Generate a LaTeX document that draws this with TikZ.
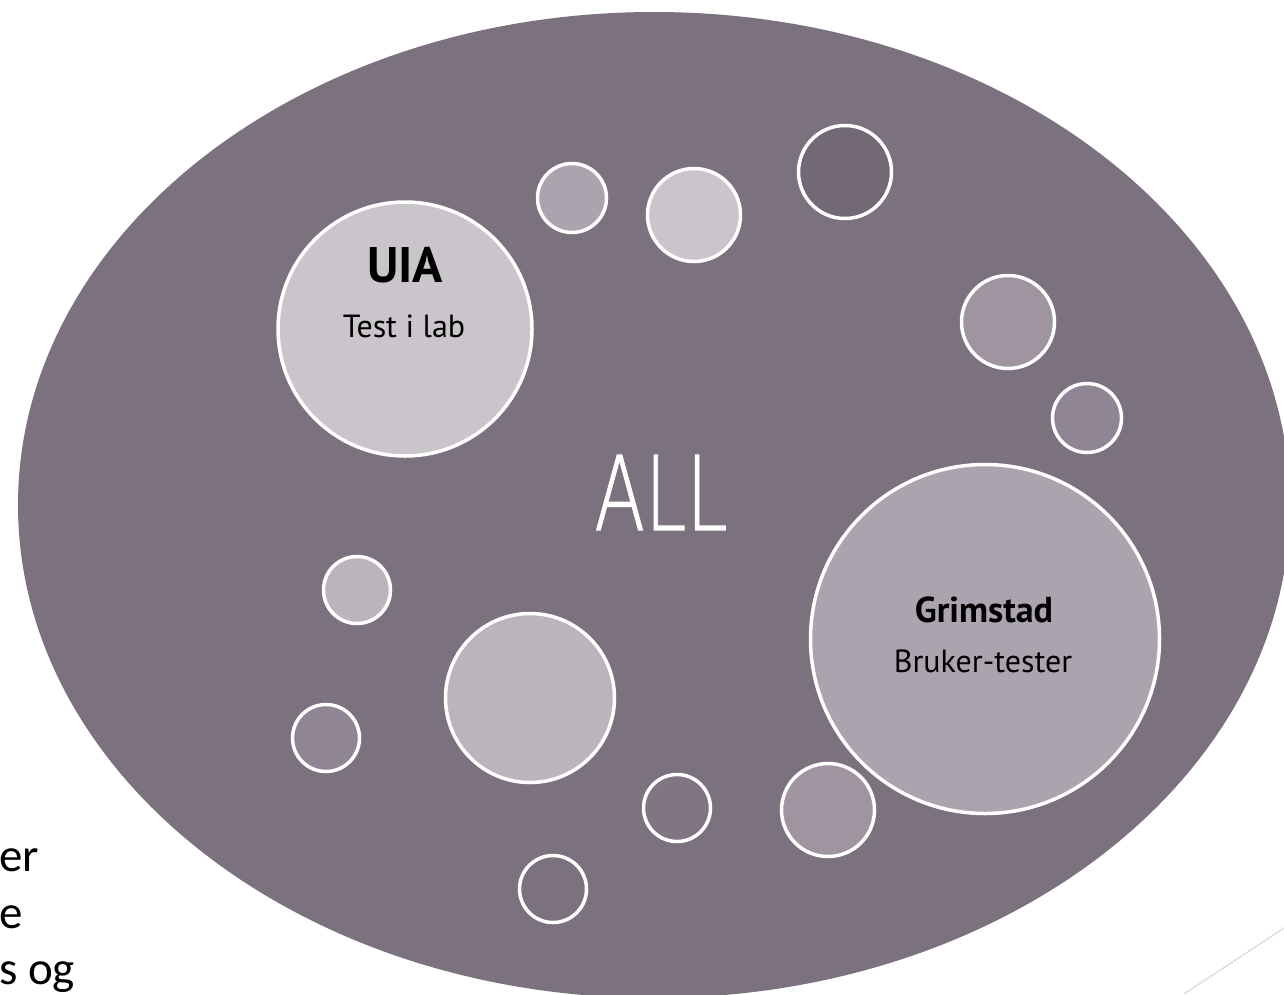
\documentclass[tikz,border=0pt]{standalone}
\usepackage{fontspec}
\setmainfont{PT Sans}
\newfontfamily\leftfont{Carlito}
\newfontfamily\allfont[FakeBold=1.2]{DejaVu Sans ExtraLight}

\definecolor{ovalgray}{RGB}{124,113,126}
\definecolor{paleA}{RGB}{202,197,202}
\definecolor{paleB}{RGB}{187,180,188}
\definecolor{midA}{RGB}{171,164,174}
\definecolor{midB}{RGB}{159,148,160}
\definecolor{midC}{RGB}{143,133,148}
\definecolor{dimA}{RGB}{129,117,131}
\definecolor{deepA}{RGB}{115,104,117}
\definecolor{linegray}{RGB}{217,217,217}

\tikzset{
  bubble/.style={circle, draw=white, line width=3.5pt, inner sep=0pt, minimum size=#1},
  bubbletitle/.style={anchor=base, font=\bfseries\fontsize{#1}{#1}\selectfont},
  bubbletext/.style={anchor=base, font=\fontsize{32}{32}\selectfont},
  cuttext/.style={anchor=base west, inner sep=0pt, font=\leftfont\fontsize{47}{47}\selectfont},
}

\begin{document}
\begin{tikzpicture}[x=1pt, y=-1pt]
        \useasboundingbox (0,0) rectangle (1284,994);
        % text behind the oval
        \node [cuttext] (lineone) at (-1,871) {er};
        \node [cuttext] (linetwo) at (-1,928) {e};
        \node [cuttext] (linethree) at (-1,984) {s og};
        \draw[linegray, line width=1.2pt] (1184,994) -- (1284,928);
        % the big oval
        \fill[ovalgray] (654,505) ellipse [x radius=636, y radius=493];
        \node [anchor=base, text=white, font=\allfont\fontsize{103}{103}\selectfont] (all) at (661,530) {\scalebox{0.72}[1]{ALL}};
        % bubbles
        \node [bubble=254, fill=paleA] (uia) at (405,329) {};
        \node [bubble=69, fill=midA] (bubblea) at (572,198) {};
        \node [bubble=93, fill=paleA] (bubbleb) at (694,215) {};
        \node [bubble=93, fill=deepA] (bubblec) at (845,172) {};
        \node [bubble=93, fill=midB] (bubbled) at (1008,322) {};
        \node [bubble=69, fill=midC] (bubblee) at (1087,418) {};
        \node [bubble=349, fill=midA] (grimstad) at (985,639) {};
        \node [bubble=67, fill=paleB] (bubblef) at (357,590) {};
        \node [bubble=169, fill=paleB] (bubbleg) at (530,698) {};
        \node [bubble=67, fill=midC] (bubbleh) at (326,738) {};
        \node [bubble=67, fill=dimA] (bubblei) at (677,808) {};
        \node [bubble=93, fill=midB] (bubblej) at (828,810) {};
        \node [bubble=67, fill=ovalgray] (bubblek) at (553,889) {};
        % labels
        \node [bubbletitle=50] (uiatitle) at (405,282) {UIA};
        \node [bubbletext] (uiatext) at (404,337) {Test i lab};
        \node [bubbletitle=36] (grimstadtitle) at (984,622) {Grimstad};
        \node [bubbletext] (grimstadtext) at (983,672) {Bruker-tester};
\end{tikzpicture}
\end{document}
